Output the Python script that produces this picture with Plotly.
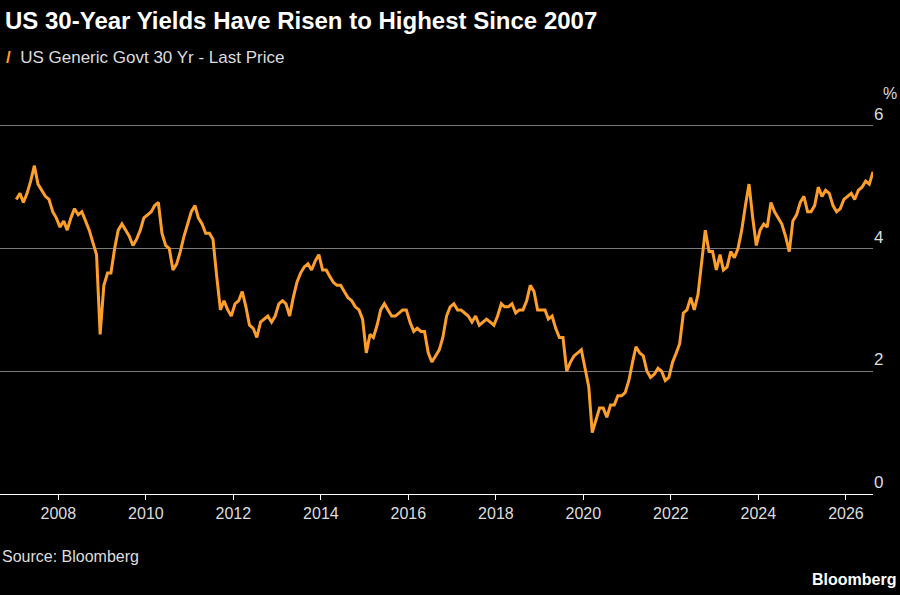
import pandas as pd
import plotly.graph_objects as go

# monthly approximations, Jan 2007 - Aug 2026
yields = [
    # 2007
    4.8, 4.9, 4.75, 4.9, 5.1, 5.35, 5.05, 4.95, 4.85, 4.8, 4.6, 4.5,
    # 2008
    4.35, 4.45, 4.3, 4.5, 4.65, 4.55, 4.6, 4.45, 4.3, 4.1, 3.9, 2.6,
    # 2009
    3.4, 3.6, 3.6, 4.0, 4.3, 4.4, 4.3, 4.2, 4.05, 4.15, 4.3, 4.5,
    # 2010
    4.55, 4.6, 4.7, 4.75, 4.25, 4.05, 4.0, 3.65, 3.75, 3.95, 4.2, 4.4,
    # 2011
    4.6, 4.7, 4.5, 4.4, 4.25, 4.25, 4.15, 3.55, 3.0, 3.15, 3.0, 2.9,
    # 2012
    3.1, 3.15, 3.3, 3.05, 2.75, 2.7, 2.55, 2.8, 2.85, 2.9, 2.8, 2.9,
    # 2013
    3.1, 3.15, 3.1, 2.9, 3.2, 3.45, 3.6, 3.7, 3.75, 3.65, 3.8, 3.9,
    # 2014
    3.65, 3.65, 3.55, 3.45, 3.4, 3.4, 3.3, 3.2, 3.15, 3.05, 3.0, 2.85,
    # 2015
    2.3, 2.6, 2.55, 2.75, 3.0, 3.1, 3.0, 2.9, 2.9, 2.95, 3.0, 3.0,
    # 2016
    2.8, 2.65, 2.7, 2.65, 2.65, 2.3, 2.15, 2.25, 2.35, 2.55, 2.9, 3.05,
    # 2017
    3.1, 3.0, 3.0, 2.95, 2.9, 2.8, 2.9, 2.75, 2.8, 2.85, 2.8, 2.75,
    # 2018
    2.9, 3.1, 3.05, 3.05, 3.1, 2.95, 3.0, 3.0, 3.15, 3.4, 3.3, 3.0,
    # 2019
    3.0, 3.0, 2.85, 2.9, 2.7, 2.55, 2.55, 2.0, 2.15, 2.25, 2.3, 2.35,
    # 2020
    2.05, 1.75, 1.0, 1.2, 1.4, 1.4, 1.25, 1.45, 1.45, 1.6, 1.6, 1.65,
    # 2021
    1.85, 2.15, 2.4, 2.3, 2.25, 2.0, 1.9, 1.95, 2.05, 2.0, 1.85, 1.9,
    # 2022
    2.15, 2.3, 2.45, 2.95, 3.0, 3.2, 3.0, 3.25, 3.75, 4.3, 3.95, 3.95,
    # 2023
    3.65, 3.9, 3.65, 3.7, 3.95, 3.85, 4.0, 4.3, 4.7, 5.05, 4.5, 4.05,
    # 2024
    4.3, 4.4, 4.35, 4.75, 4.6, 4.5, 4.4, 4.2, 3.95, 4.45, 4.55, 4.75,
    # 2025
    4.85, 4.6, 4.6, 4.7, 5.0, 4.85, 4.95, 4.9, 4.7, 4.6, 4.65, 4.8,
    # 2026
    4.85, 4.9, 4.8, 4.95, 5.0, 5.1, 5.05, 5.25,
]
dates = pd.date_range("2007-01-01", periods=len(yields), freq="MS") + pd.Timedelta(days=14)

tick_years = [str(y) for y in range(2008, 2027, 2)]
y_ticks = [0, 2, 4, 6]

orange = "#ff9f2b"

fig = go.Figure()
fig.add_trace(go.Scatter(x=dates, y=yields, mode="lines",
                         line=dict(color=orange, width=3), showlegend=False))

fig.update_layout(
    width=900, height=595,
    paper_bgcolor="black", plot_bgcolor="black",
    margin=dict(l=0, r=27, t=89, b=101),
    font=dict(family="Liberation Sans, Arial", color="white", size=16),
)
fig.update_xaxes(
    range=["2006-09-01", "2026-08-15"],
    tickvals=[f"{y}-01-01" for y in tick_years], ticktext=tick_years,
    showgrid=False, showline=True, linecolor="white", linewidth=1,
    ticks="outside", ticklen=5, tickcolor="white", tickfont=dict(color="#dddddd"),
)
fig.update_yaxes(
    range=[0, 6.6], side="right", tickvals=y_ticks,
    ticktext=[str(v) for v in y_ticks],
    gridcolor="#7a7a7a", gridwidth=1, zeroline=False,
    ticklabelposition="outside top", tickfont=dict(color="#dddddd", size=17),
)

fig.add_annotation(text="<b>US 30-Year Yields Have Risen to Highest Since 2007</b>",
                   xref="paper", yref="paper", x=0.0, y=1.0, xshift=3, yshift=84,
                   xanchor="left", showarrow=False, font=dict(size=24, color="white"))
fig.add_annotation(text="<span style='color:%s'><b>/</b></span>  US Generic Govt 30 Yr - Last Price" % orange,
                   xref="paper", yref="paper", x=0.0, y=1.0, xshift=4, yshift=43,
                   xanchor="left", showarrow=False, font=dict(size=17, color="#dddddd"))
fig.add_annotation(text="%", xref="paper", yref="paper", x=1.0, y=1.0, xshift=17, yshift=6,
                   xanchor="center", showarrow=False, font=dict(size=16, color="#dddddd"))
fig.add_annotation(text="Source: Bloomberg", xref="paper", yref="paper", x=0.0, y=0, yshift=-73,
                   xanchor="left", showarrow=False, font=dict(size=16, color="#dddddd"))
fig.add_annotation(text="<b>Bloomberg</b>", xref="paper", yref="paper", x=1.0, y=0, xshift=25, yshift=-96,
                   xanchor="right", showarrow=False, font=dict(size=16, color="white"))

fig.write_html("out.html", config={"displayModeBar": False},
               post_script="document.body.style.margin='0';document.body.style.background='black';")
